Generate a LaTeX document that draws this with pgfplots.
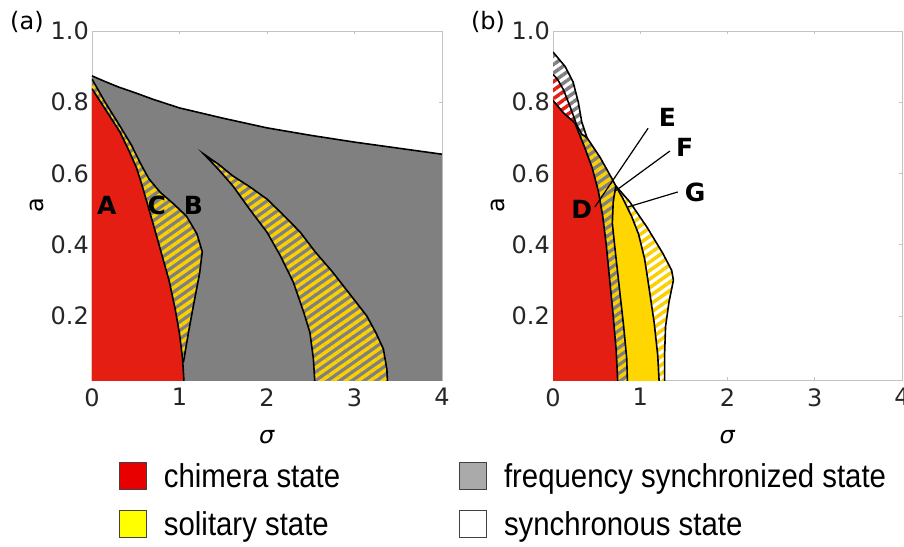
\documentclass[border=0pt]{standalone}
\usepackage{pgfplots}
\pgfplotsset{compat=1.18}
\usepackage{fontspec}
\setmainfont{DejaVu Sans}
\newfontfamily\legfont[FakeStretch=0.89]{Liberation Sans}
\usetikzlibrary{patterns.meta}

\definecolor{chired}{RGB}{228,30,18}
\definecolor{fsgray}{RGB}{128,128,128}
\definecolor{hyel}{RGB}{250,208,0}
\definecolor{solyel}{RGB}{255,214,0}
\definecolor{legred}{RGB}{232,0,0}
\definecolor{legyel}{RGB}{255,255,0}
\definecolor{leggray}{RGB}{170,170,170}
\definecolor{framegray}{RGB}{195,195,195}

\pgfplotsset{
  panel/.style={
    scale only axis, width=350pt, height=349pt,
    xmin=0, xmax=4, ymin=0.02, ymax=1,
    xtick={0,1,2,3,4}, ytick={0.2,0.4,0.6,0.8,1.0},
    y tick label style={/pgf/number format/.cd, fixed, fixed zerofill, precision=1, /tikz/.cd},
    /pgf/number format/assume math mode=true,
    tick label style={font=\fontsize{24}{28}\selectfont, text=black!85, inner sep=0pt},
    x tick label style={yshift=-8pt},
    y tick label style={xshift=-3pt},
    axis line style={framegray, line width=0.8pt},
    tick style={framegray, line width=0.6pt}, major tick length=3pt, tick align=inside,
    clip mode=individual,
    xlabel={\textit{σ}}, ylabel={a},
    every axis x label/.style={at={(axis description cs:0.5,-0.163)}, anchor=center,
      font=\fontsize{24}{28}\selectfont},
    every axis y label/.style={at={(axis description cs:-0.157,0.5)}, rotate=90, anchor=center,
      font=\fontsize{24}{28}\selectfont},
  },
  bnd/.style={black, line width=1.6pt, forget plot},
  reg/.style={draw=none, forget plot},
  stripes/.style={pattern={Lines[angle=35,distance=7pt,line width=3.5pt]}, pattern color=#1},
}

\begin{document}
\begin{tikzpicture}
\useasboundingbox (0pt,0pt) rectangle (904pt,546pt);

% ---------- panel (a) ----------
\begin{axis}[panel, at={(92pt,166pt)}, anchor=south west,
  legend cell align=left,
  legend style={draw=none, fill=none, inner sep=0pt,
    at={(axis description cs:0.077,-0.235)}, anchor=north west,
    legend columns=2, font=\fontsize{33}{38}\legfont, row sep=20pt,
    nodes={inner sep=0pt},
    /tikz/every odd column/.append style={column sep=17pt},
    /tikz/every even column/.append style={column sep=119pt}},
  legend image code/.code={\draw[#1, draw=black!75, line width=0.8pt] (0pt,-13.5pt) rectangle (27pt,13.5pt);},
]
% frequency synchronized region
\addplot[reg, fill=fsgray] coordinates {
 (0,0) (0,0.874) (0.15,0.858) (0.3,0.843) (0.5,0.826) (0.7,0.808) (1.0,0.784)
 (1.5,0.755) (2,0.728) (2.5,0.707) (3,0.688) (3.5,0.671) (4,0.654) (4,0)} -- cycle;
% solitary tongue
\addplot[reg, preaction={fill=fsgray}, stripes=hyel] coordinates {
 (1.28,0.654) (1.45,0.61) (1.61,0.565) (1.8,0.50) (2.0,0.435) (2.15,0.37) (2.30,0.295)
 (2.42,0.21) (2.49,0.154) (2.53,0.08) (2.55,0) (3.38,0) (3.37,0.05) (3.33,0.107)
 (3.25,0.15) (3.14,0.2) (2.95,0.26) (2.75,0.323) (2.55,0.38) (2.38,0.435) (2.2,0.48)
 (2.0,0.528) (1.8,0.563) (1.61,0.593) (1.45,0.625)} -- cycle;
% region C
\addplot[reg, preaction={fill=fsgray}, stripes=hyel] coordinates {
 (0,0.865) (0.15,0.80) (0.32,0.733) (0.45,0.68) (0.55,0.63) (0.65,0.585) (0.78,0.547)
 (0.93,0.515) (1.08,0.48) (1.2,0.43) (1.26,0.38) (1.23,0.32) (1.16,0.23) (1.10,0.15)
 (1.045,0.07) (1.055,0) (0,0)} -- cycle;
% chimera region A
\addplot[reg, fill=chired] coordinates {
 (0,0) (0,0.838) (0.1,0.80) (0.2,0.762) (0.32,0.716) (0.42,0.665) (0.51,0.615)
 (0.58,0.56) (0.65,0.50) (0.72,0.44) (0.80,0.37) (0.88,0.30) (0.95,0.22) (1.0,0.15)
 (1.035,0.08) (1.055,0)} -- cycle;
% boundaries
\addplot[bnd] coordinates {
 (0,0.874) (0.15,0.858) (0.3,0.843) (0.5,0.826) (0.7,0.808) (1.0,0.784)
 (1.5,0.755) (2,0.728) (2.5,0.707) (3,0.688) (3.5,0.671) (4,0.654)};
\addplot[bnd] coordinates {
 (0,0.865) (0.15,0.80) (0.32,0.733) (0.45,0.68) (0.55,0.63) (0.65,0.585) (0.78,0.547)
 (0.93,0.515) (1.08,0.48) (1.2,0.43) (1.26,0.38) (1.23,0.32) (1.16,0.23) (1.10,0.15)
 (1.045,0.07)};
\addplot[bnd] coordinates {
 (0,0.838) (0.1,0.80) (0.2,0.762) (0.32,0.716) (0.42,0.665) (0.51,0.615)
 (0.58,0.56) (0.65,0.50) (0.72,0.44) (0.80,0.37) (0.88,0.30) (0.95,0.22) (1.0,0.15)
 (1.035,0.08) (1.055,0)};
\addplot[bnd] coordinates {
 (2.55,0) (2.53,0.08) (2.49,0.154) (2.42,0.21) (2.30,0.295) (2.15,0.37) (2.0,0.435)
 (1.8,0.50) (1.61,0.565) (1.45,0.61) (1.28,0.654) (1.45,0.625) (1.61,0.593) (1.8,0.563)
 (2.0,0.528) (2.2,0.48) (2.38,0.435) (2.55,0.38) (2.75,0.323) (2.95,0.26) (3.14,0.2)
 (3.25,0.15) (3.33,0.107) (3.37,0.05) (3.38,0)};
\node[font=\bfseries\fontsize{25}{28}\selectfont] at (axis cs:0.17,0.51) {A};
\node[font=\bfseries\fontsize{25}{28}\selectfont] at (axis cs:0.74,0.51) {C};
\node[font=\bfseries\fontsize{25}{28}\selectfont] at (axis cs:1.16,0.51) {B};
\node[font=\fontsize{24}{28}\selectfont] at (axis description cs:-0.186,1.027) {(a)};
% legend
\addlegendimage{fill=legred}\addlegendentry{chimera state}
\addlegendimage{fill=leggray}\addlegendentry{frequency synchronized state}
\addlegendimage{fill=legyel}\addlegendentry{solitary state}
\addlegendimage{fill=white}\addlegendentry{synchronous state}
\end{axis}

% ---------- panel (b) ----------
\begin{axis}[panel, at={(553pt,166pt)}, anchor=south west, width=349pt]
% G: solitary/synchronous (whole envelope first)
\addplot[reg, preaction={fill=white}, stripes=hyel] coordinates {
 (0,0) (0,0.941) (0.14,0.90) (0.23,0.857) (0.29,0.80) (0.33,0.744) (0.39,0.70)
 (0.54,0.645) (0.67,0.588) (0.72,0.565) (0.88,0.52) (1.08,0.448) (1.26,0.375)
 (1.36,0.328) (1.38,0.30) (1.33,0.24) (1.29,0.17) (1.28,0.1) (1.28,0)} -- cycle;
% top: frequency synchronized / synchronous
\addplot[reg, preaction={fill=white}, stripes=fsgray] coordinates {
 (0,0.941) (0.14,0.90) (0.23,0.857) (0.29,0.80) (0.33,0.744) (0.39,0.70)
 (0.33,0.71) (0.27,0.737) (0.20,0.785) (0.12,0.835) (0.05,0.865) (0,0.878)} -- cycle;
% small chimera/synchronous sliver
\addplot[reg, preaction={fill=white}, stripes=chired] coordinates {
 (0,0.878) (0.05,0.865) (0.12,0.835) (0.20,0.785) (0.26,0.742) (0.12,0.77) (0,0.805)} -- cycle;
% E: solitary/frequency synchronized
\addplot[reg, preaction={fill=fsgray}, stripes=hyel] coordinates {
 (0.745,0) (0.725,0.10) (0.69,0.20) (0.65,0.30) (0.61,0.40) (0.57,0.48) (0.52,0.55)
 (0.45,0.615) (0.36,0.675) (0.26,0.742) (0.27,0.737) (0.33,0.71) (0.39,0.70)
 (0.54,0.645) (0.67,0.588) (0.72,0.565) (0.69,0.52) (0.68,0.46) (0.71,0.39)
 (0.76,0.28) (0.81,0.17) (0.845,0.08) (0.855,0)} -- cycle;
% F: solitary
\addplot[reg, fill=solyel] coordinates {
 (0.72,0.565) (0.80,0.53) (0.90,0.48) (0.98,0.43) (1.05,0.36) (1.10,0.28) (1.16,0.18)
 (1.20,0.09) (1.22,0) (0.855,0) (0.845,0.08) (0.81,0.17) (0.76,0.28) (0.71,0.39)
 (0.68,0.46) (0.69,0.52)} -- cycle;
% D: chimera
\addplot[reg, fill=chired] coordinates {
 (0,0) (0,0.805) (0.12,0.77) (0.25,0.742) (0.36,0.675) (0.45,0.615) (0.52,0.55)
 (0.57,0.48) (0.61,0.40) (0.65,0.30) (0.69,0.20) (0.725,0.10) (0.745,0)} -- cycle;
% boundaries
\addplot[bnd] coordinates {
 (0,0.941) (0.14,0.90) (0.23,0.857) (0.29,0.80) (0.33,0.744) (0.39,0.70)
 (0.54,0.645) (0.67,0.588) (0.72,0.565) (0.88,0.52) (1.08,0.448) (1.26,0.375)
 (1.36,0.328) (1.38,0.30) (1.33,0.24) (1.29,0.17) (1.28,0.1) (1.28,0)};
\addplot[bnd] coordinates {
 (0,0.878) (0.05,0.865) (0.12,0.835) (0.20,0.785) (0.27,0.737) (0.33,0.71) (0.39,0.70)};
\addplot[bnd] coordinates {
 (0,0.805) (0.12,0.77) (0.25,0.742) (0.36,0.675) (0.45,0.615) (0.52,0.55)
 (0.57,0.48) (0.61,0.40) (0.65,0.30) (0.69,0.20) (0.725,0.10) (0.745,0)};
\addplot[bnd] coordinates {
 (0.72,0.565) (0.69,0.52) (0.68,0.46) (0.71,0.39) (0.76,0.28) (0.81,0.17) (0.845,0.08) (0.855,0)};
\addplot[bnd] coordinates {
 (0.72,0.565) (0.80,0.53) (0.90,0.48) (0.98,0.43) (1.05,0.36) (1.10,0.28) (1.16,0.18)
 (1.20,0.09) (1.22,0)};
% leader lines
\addplot[black, line width=1.2pt, forget plot] coordinates {(1.09,0.727) (0.48,0.506)};
\addplot[black, line width=1.2pt, forget plot] coordinates {(1.34,0.663) (0.71,0.55)};
\addplot[black, line width=1.2pt, forget plot] coordinates {(1.43,0.548) (0.86,0.506)};
\node[font=\bfseries\fontsize{25}{28}\selectfont] at (axis cs:0.33,0.50) {D};
\node[font=\bfseries\fontsize{25}{28}\selectfont] at (axis cs:1.31,0.758) {E};
\node[font=\bfseries\fontsize{25}{28}\selectfont] at (axis cs:1.51,0.674) {F};
\node[font=\bfseries\fontsize{25}{28}\selectfont] at (axis cs:1.63,0.548) {G};
\node[font=\fontsize{24}{28}\selectfont] at (axis description cs:-0.186,1.027) {(b)};
\end{axis}
\end{tikzpicture}
\end{document}
